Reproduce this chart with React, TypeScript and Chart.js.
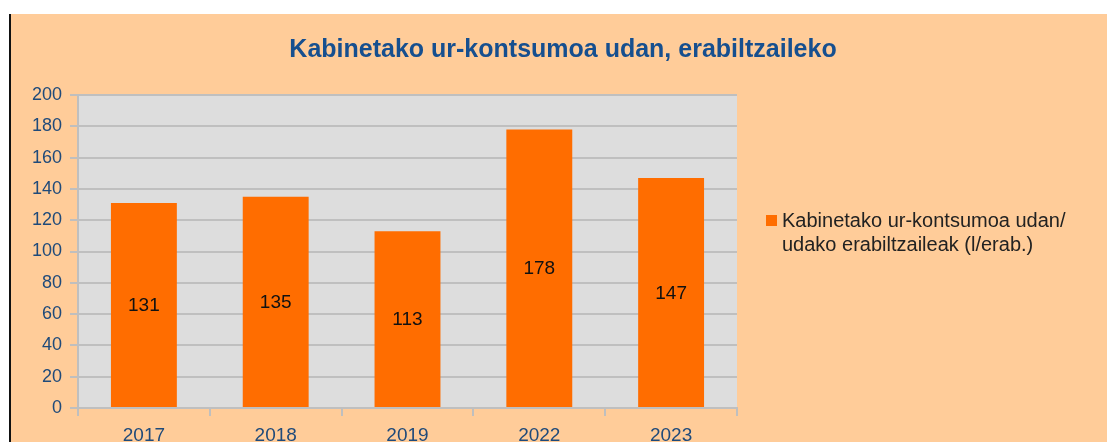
import React, { useEffect, useRef } from "react";
import { Chart, registerables } from "chart.js";

Chart.register(...registerables);

const TITLE = "Kabinetako ur-kontsumoa udan, erabiltzaileko";
const CATEGORIES = ["2017", "2018", "2019", "2022", "2023"];
const VALUES = [131, 135, 113, 178, 147];
const SERIES_LABEL = ["Kabinetako ur-kontsumoa udan/", "udako erabiltzaileak (l/erab.)"];
const Y_MIN = 0;
const Y_MAX = 200;
const Y_STEP = 20;

const PEACH = "#ffcc99";
const BAR = "#ff6d00";
const GRID = "#bfbfbf";
const PLOT_BG = "#dddddd";
const TICK_COLOR = "#1f4a7a";
const TITLE_COLOR = "#164f8f";
const FONT = "'Liberation Sans', Arial, sans-serif";

const decorPlugin = {
  id: "decor",
  beforeDraw(chart: any) {
    const { ctx, width, height, chartArea } = chart;
    ctx.save();
    ctx.fillStyle = "#ffffff";
    ctx.fillRect(0, 0, width, height);
    ctx.fillStyle = PEACH;
    ctx.fillRect(10, 14, width - 10, height - 14);
    ctx.fillStyle = "#111111";
    ctx.fillRect(9, 14, 2, height - 14);
    ctx.fillStyle = PLOT_BG;
    ctx.fillRect(chartArea.left, chartArea.top, chartArea.right - chartArea.left, chartArea.bottom - chartArea.top);
    ctx.restore();
  },
  afterDraw(chart: any) {
    const { ctx, chartArea } = chart;
    ctx.save();
    // title
    ctx.font = `bold 25px ${FONT}`;
    ctx.fillStyle = TITLE_COLOR;
    ctx.textAlign = "center";
    ctx.textBaseline = "middle";
    ctx.fillText(TITLE, 563, 50);
    // data labels
    const meta = chart.getDatasetMeta(0);
    ctx.font = `19px ${FONT}`;
    ctx.fillStyle = "#111111";
    meta.data.forEach((el: any, i: number) => {
      const y = (el.y + el.base) / 2;
      ctx.fillText(String(VALUES[i]), el.x, y + 1);
    });
    // legend
    const lx = chartArea.right + 29;
    const ly = 220;
    ctx.fillStyle = BAR;
    ctx.fillRect(lx, ly - 5, 11, 11);
    ctx.fillStyle = "#222222";
    ctx.textAlign = "left";
    ctx.font = `20px ${FONT}`;
    SERIES_LABEL.forEach((line, i) => {
      ctx.fillText(line, lx + 16, ly + 1 + i * 24);
    });
    ctx.restore();
  },
};

export default function App() {
  const ref = useRef<HTMLCanvasElement | null>(null);
  useEffect(() => {
    if (!ref.current) return;
    const chart = new Chart(ref.current, {
      type: "bar",
      data: {
        labels: CATEGORIES,
        datasets: [
          {
            label: SERIES_LABEL.join(" "),
            data: VALUES,
            backgroundColor: BAR,
            barPercentage: 0.5,
            categoryPercentage: 1,
          },
        ],
      },
      options: {
        animation: false,
        responsive: false,
        layout: { padding: { left: 10, right: 370, top: 95, bottom: 0 } },
        plugins: { legend: { display: false }, title: { display: false }, tooltip: { enabled: false } },
        scales: {
          x: {
            afterFit(scale: any) {
              scale.height = 34;
            },
            grid: { display: true, drawOnChartArea: false, color: GRID, lineWidth: 2, tickLength: 8, offset: true },
            border: { color: GRID, width: 2 },
            ticks: { color: TICK_COLOR, font: { family: FONT, size: 19 }, padding: 8 },
          },
          y: {
            min: Y_MIN,
            max: Y_MAX,
            afterFit(scale: any) {
              scale.width = 68;
            },
            grid: { color: GRID, lineWidth: 2, tickLength: 8 },
            border: { color: GRID, width: 2 },
            ticks: { stepSize: Y_STEP, color: TICK_COLOR, font: { family: FONT, size: 18 }, padding: 8 },
          },
        },
      },
      plugins: [decorPlugin],
    });
    return () => chart.destroy();
  }, []);
  return (
    <div style={{ position: "fixed", left: 0, top: 0, width: 1107, height: 442 }}>
      <canvas ref={ref} width={1107} height={442} style={{ display: "block", width: 1107, height: 442 }} />
    </div>
  );
}
